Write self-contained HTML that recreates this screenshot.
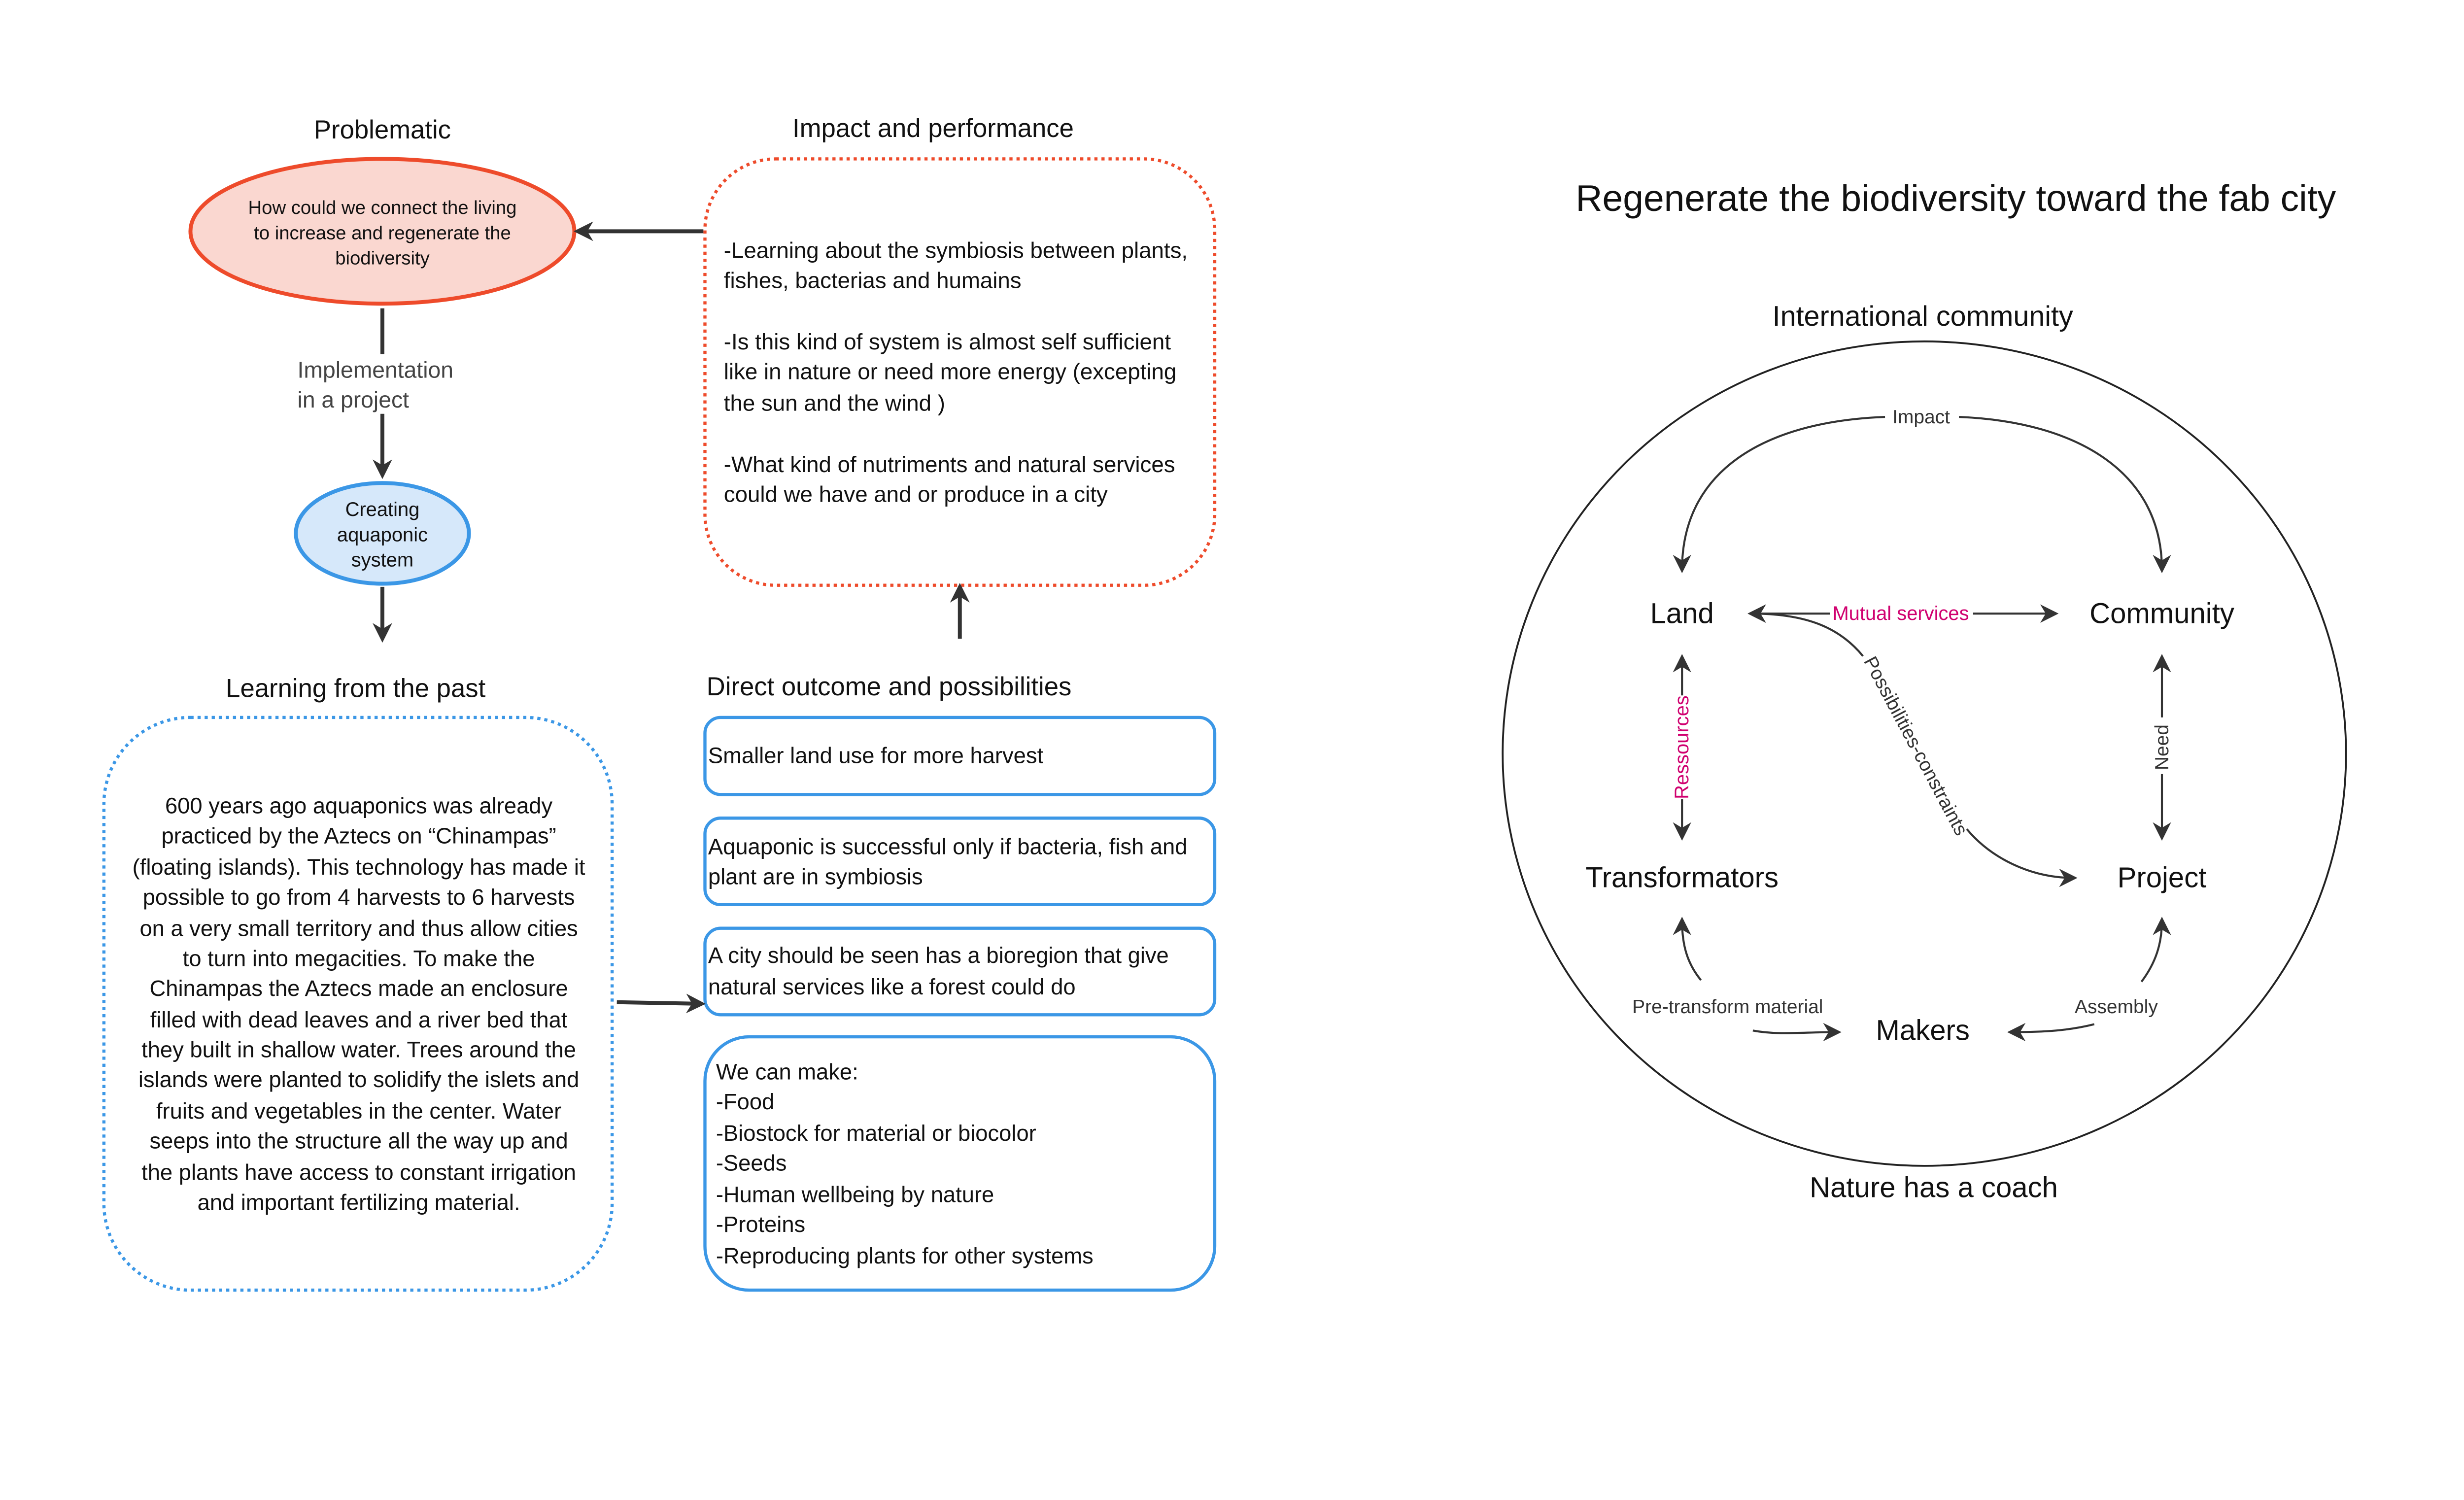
<!DOCTYPE html>
<html><head><meta charset="utf-8"><style>html,body{margin:0;padding:0;background:#fff;overflow:hidden}svg{display:block}</style></head>
<body>
<svg width="4981" height="2885" viewBox="0 0 1560 903.6" xmlns="http://www.w3.org/2000/svg" font-family="Liberation Sans, DejaVu Sans, sans-serif" fill="#111">
<defs>
<marker id="a" viewBox="0 0 10 10" refX="8" refY="5" markerWidth="5" markerHeight="5" orient="auto-start-reverse" markerUnits="strokeWidth">
<path d="M0,0 L10,5 L0,10 L3,5 z" fill="#333"/></marker>
<marker id="b" viewBox="0 0 10 10" refX="8" refY="5" markerWidth="9" markerHeight="9" orient="auto-start-reverse" markerUnits="strokeWidth">
<path d="M0,0 L10,5 L0,10 L3,5 z" fill="#333"/></marker>
</defs>
<rect width="1560" height="904" fill="#fff"/>
<text x="243" y="88" font-size="16.5" text-anchor="middle">Problematic</text>
<ellipse cx="243" cy="147" rx="122" ry="46" fill="#fad7d0" stroke="#ee4b2b" stroke-width="2.5"/>
<g font-size="12" text-anchor="middle"><text x="243" y="136">How could we connect the living</text><text x="243" y="152">to increase and regenerate the</text><text x="243" y="168">biodiversity</text></g>
<line x1="243" y1="196" x2="243" y2="225" stroke="#333" stroke-width="2.5"/>
<g font-size="14.5" fill="#444"><text x="189" y="240">Implementation</text><text x="189" y="259">in a project</text></g>
<line x1="243" y1="263" x2="243" y2="302" stroke="#333" stroke-width="2.5" marker-end="url(#a)"/>
<ellipse cx="243" cy="339" rx="55" ry="32" fill="#d6e8fa" stroke="#3b97e6" stroke-width="2.5"/>
<g font-size="12.5" text-anchor="middle"><text x="243" y="328">Creating</text><text x="243" y="344">aquaponic</text><text x="243" y="360">system</text></g>
<line x1="243" y1="373" x2="243" y2="406" stroke="#333" stroke-width="2.5" marker-end="url(#a)"/>

<text x="226" y="443" font-size="16.5" text-anchor="middle">Learning from the past</text>
<rect x="66" y="456" width="323" height="364" rx="55" fill="none" stroke="#3b97e6" stroke-width="2" stroke-dasharray="2,2.5"/>
<g font-size="14.2" text-anchor="middle">
<text x="228" y="517">600 years ago aquaponics was already</text>
<text x="228" y="536">practiced by the Aztecs on “Chinampas”</text>
<text x="228" y="556">(floating islands). This technology has made it</text>
<text x="228" y="575">possible to go from 4 harvests to 6 harvests</text>
<text x="228" y="595">on a very small territory and thus allow cities</text>
<text x="228" y="614">to turn into megacities. To make the</text>
<text x="228" y="633">Chinampas the Aztecs made an enclosure</text>
<text x="228" y="653">filled with dead leaves and a river bed that</text>
<text x="228" y="672">they built in shallow water. Trees around the</text>
<text x="228" y="691">islands were planted to solidify the islets and</text>
<text x="228" y="711">fruits and vegetables in the center. Water</text>
<text x="228" y="730">seeps into the structure all the way up and</text>
<text x="228" y="750">the plants have access to constant irrigation</text>
<text x="228" y="769">and important fertilizing material.</text>
</g>

<text x="593" y="87" font-size="16.5" text-anchor="middle">Impact and performance</text>
<rect x="448" y="101" width="324" height="271" rx="45" fill="none" stroke="#ee4b2b" stroke-width="2" stroke-dasharray="2,2.5"/>
<g font-size="14.3">
<text x="460" y="164">-Learning about the symbiosis between plants,</text>
<text x="460" y="183">fishes, bacterias and humains</text>
<text x="460" y="222">-Is this kind of system is almost self sufficient</text>
<text x="460" y="241">like in nature or need more energy (excepting</text>
<text x="460" y="261">the sun and the wind )</text>
<text x="460" y="300">-What kind of nutriments and natural services</text>
<text x="460" y="319">could we have and or produce in a city</text>
</g>
<line x1="447" y1="147" x2="367" y2="147" stroke="#333" stroke-width="2.5" marker-end="url(#a)"/>
<line x1="610" y1="406" x2="610" y2="373" stroke="#333" stroke-width="2.5" marker-end="url(#a)"/>

<text x="449" y="442" font-size="16.5">Direct outcome and possibilities</text>
<g fill="none" stroke="#3b97e6" stroke-width="2">
<rect x="448" y="456" width="324" height="49" rx="10"/>
<rect x="448" y="520" width="324" height="55" rx="10"/>
<rect x="448" y="590" width="324" height="55" rx="10"/>
<rect x="448" y="659" width="324" height="161" rx="28"/>
</g>
<g font-size="14.2">
<text x="450" y="485">Smaller land use for more harvest</text>
<text x="450" y="543">Aquaponic is successful only if bacteria, fish and</text>
<text x="450" y="562">plant are in symbiosis</text>
<text x="450" y="612">A city should be seen has a bioregion that give</text>
<text x="450" y="632">natural services like a forest could do</text>
<text x="455" y="686">We can make:</text>
<text x="455" y="705">-Food</text>
<text x="455" y="725">-Biostock for material or biocolor</text>
<text x="455" y="744">-Seeds</text>
<text x="455" y="764">-Human wellbeing by nature</text>
<text x="455" y="783">-Proteins</text>
<text x="455" y="803">-Reproducing plants for other systems</text>
</g>
<line x1="392" y1="637" x2="446" y2="638" stroke="#333" stroke-width="2.5" marker-end="url(#a)"/>

<text x="1243" y="134" font-size="23.5" text-anchor="middle">Regenerate the biodiversity toward the fab city</text>
<text x="1222" y="207" font-size="18" text-anchor="middle">International community</text>
<ellipse cx="1223" cy="479" rx="268" ry="262" fill="none" stroke="#222" stroke-width="1.2"/>
<g font-size="18.2" text-anchor="middle">
<text x="1069" y="396">Land</text>
<text x="1374" y="396">Community</text>
<text x="1069" y="564">Transformators</text>
<text x="1374" y="564">Project</text>
<text x="1222" y="661">Makers</text>
<text x="1229" y="761">Nature has a coach</text>
</g>
<g fill="none" stroke="#333" stroke-width="1.3">
<path d="M1198,265 C1120,268 1069,300 1069,362" marker-end="url(#b)"/>
<path d="M1245,265 C1320,268 1374,300 1374,362" marker-end="url(#b)"/>
<line x1="1163" y1="390" x2="1113" y2="390" marker-end="url(#b)"/>
<line x1="1254" y1="390" x2="1306" y2="390" marker-end="url(#b)"/>
<line x1="1069" y1="442" x2="1069" y2="418" marker-end="url(#b)"/>
<line x1="1069" y1="508" x2="1069" y2="532" marker-end="url(#b)"/>
<line x1="1374" y1="456" x2="1374" y2="418" marker-end="url(#b)"/>
<line x1="1374" y1="492" x2="1374" y2="532" marker-end="url(#b)"/>
<path d="M1184,417 C1170,400 1150,390 1113,390" marker-end="url(#b)"/>
<path d="M1250,527 C1265,545 1290,558 1318,558" marker-end="url(#b)"/>
<path d="M1081,623 C1072,612 1069,600 1069,585" marker-end="url(#b)"/>
<path d="M1114,655 C1130,658 1145,656 1168,656" marker-end="url(#b)"/>
<path d="M1361,624 C1370,612 1374,600 1374,585" marker-end="url(#b)"/>
<path d="M1331,651 C1315,655 1300,656 1278,656" marker-end="url(#b)"/>
</g>
<g font-size="12.2" fill="#333" text-anchor="middle">
<text x="1221" y="269">Impact</text>
<text x="1098" y="644">Pre-transform material</text>
<text x="1345" y="644">Assembly</text>
<text x="0" y="0" transform="translate(1378,475) rotate(-90)">Need</text>
<text x="0" y="0" transform="translate(1214,476) rotate(62)">Possibilities-constraints</text>
</g>
<g font-size="12.5" fill="#d0006f" text-anchor="middle">
<text x="1208" y="394">Mutual services</text>
<text x="0" y="0" transform="translate(1073,475) rotate(-90)">Ressources</text>
</g>
</svg>
</body></html>
